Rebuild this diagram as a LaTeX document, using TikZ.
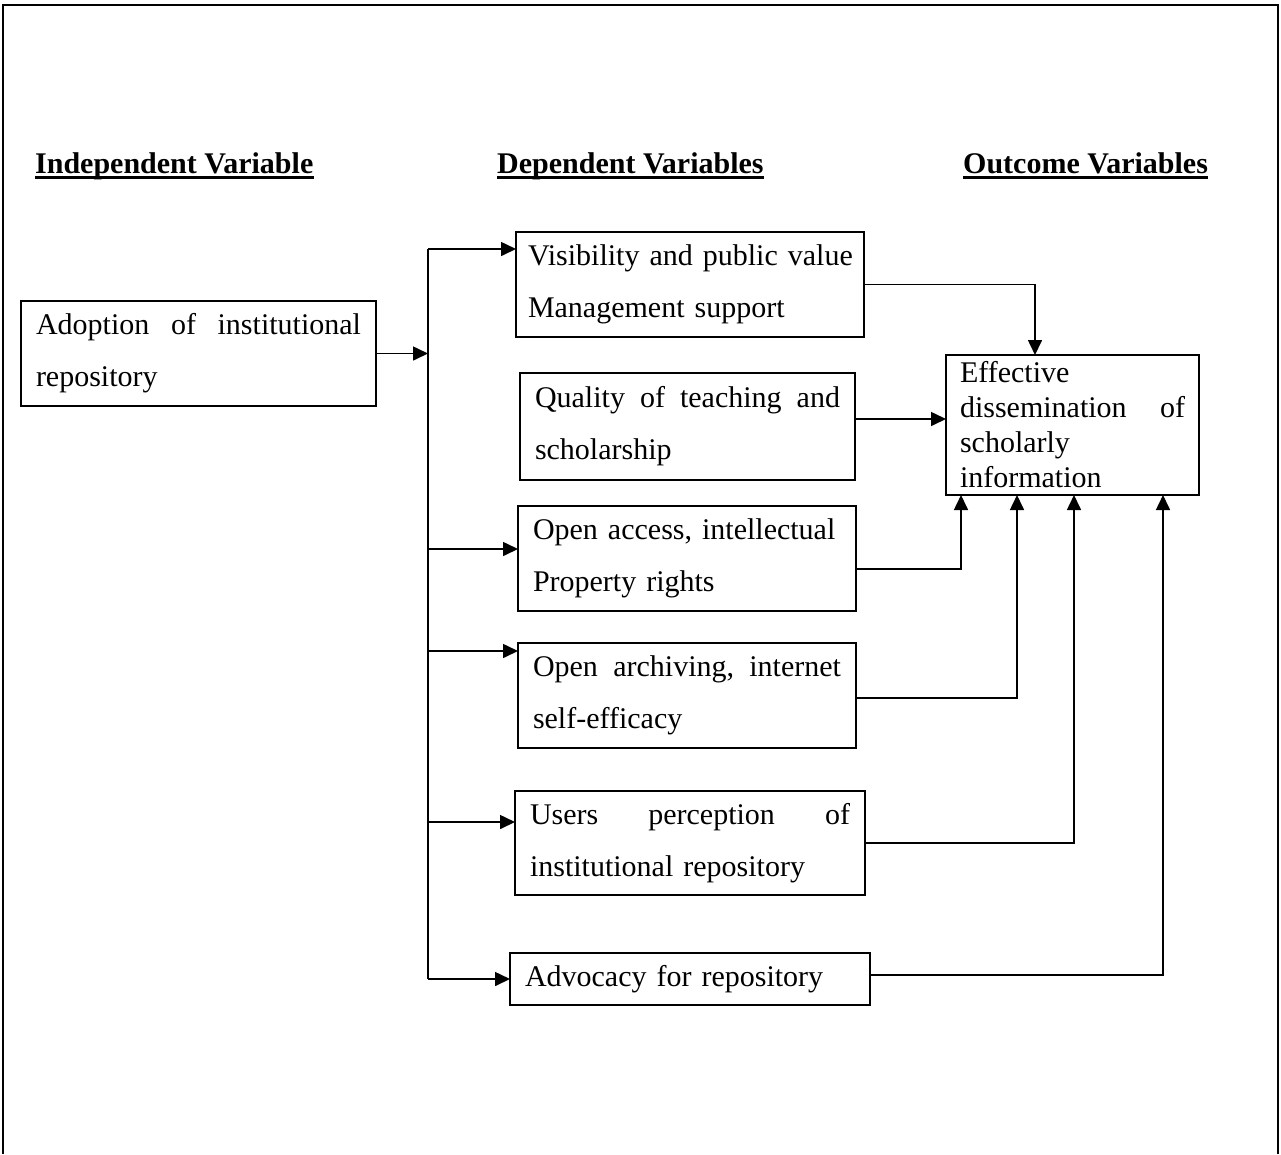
\documentclass[tikz,border=0pt]{standalone}
\usepackage{fontspec}
\setmainfont{Liberation Serif}
\usetikzlibrary{arrows.meta, positioning}
\newcommand{\boxfont}{\fontsize{30}{52}\selectfont}
\newcommand{\efffont}{\fontsize{30}{35}\selectfont}

\begin{document}
\begin{tikzpicture}[x=1pt, y=1pt,
      box/.style={draw, line width=2pt, outer sep=0pt, inner xsep=15pt, inner ysep=4pt, align=left, font=\boxfont},
      hdr/.style={inner sep=0pt, anchor=base west, font=\boxfont\bfseries},
      conn/.style={line width=1.6pt},
      arr/.style={-{Triangle[length=15pt, width=14pt]}, line width=1.6pt},
    ]
    \useasboundingbox (0,0) rectangle (1281,-1154);
    \draw[line width=2.5pt] (3,-1154) -- (3,-5) -- (1278,-5) -- (1278,-1154);

    % column headings
    \node[hdr] (hind) at (35,-173) {Independent Variable};
    \node[hdr] (hdep) at (497,-173) {Dependent Variables};
    \node[hdr] (hout) at (963,-173) {Outcome Variables};
    \foreach \h in {hind, hdep, hout}
      \draw[line width=2.5pt] ([yshift=-4.5pt]\h.base west) -- ([yshift=-4.5pt]\h.base east);

    % boxes
    \node[box, text width=325pt, minimum height=105pt] (adopt) at (198.5,-353.5)
      {Adoption\hfill of\hfill institutional\\repository};
    \node[box, text width=324pt, inner xsep=12pt, minimum height=105pt, right=140pt of adopt, yshift=69pt] (vis)
      {\mbox{Visibility and public value}\\Management support};
    \node[box, text width=305pt, minimum height=107pt, below=36pt of vis, xshift=-2.5pt] (qual)
      {Quality\hfill of\hfill teaching\hfill and\\scholarship};
    \node[box, text width=308pt, minimum height=105pt, below=26pt of qual, xshift=-0.5pt] (oa)
      {Open access, intellectual\\Property rights};
    \node[box, text width=308pt, minimum height=105pt, below=32pt of oa] (arch)
      {Open\hfill archiving,\hfill internet\\self-efficacy};
    \node[box, text width=320pt, minimum height=104pt, below=43pt of arch, xshift=3pt] (users)
      {Users\hfill perception\hfill of\\institutional repository};
    \node[box, text width=330pt, minimum height=52pt, below=58pt of users] (advo)
      {Advocacy for repository};
    \node[box, text width=225pt, inner xsep=14pt, minimum height=140pt, font=\efffont, right=91pt of qual, yshift=1.5pt] (eff)
      {Effective\\dissemination\hfill of\\scholarly\\information};

    % left side: trunk and branches
    \coordinate (trunk) at ([xshift=52pt]adopt.east);
    \coordinate (visin) at ([yshift=-17pt]vis.north west);
    \coordinate (oain) at ([yshift=9.5pt]oa.west);
    \coordinate (arin) at ([yshift=-8pt]arch.north west);
    \coordinate (usin) at ([yshift=21pt]users.west);
    \draw[conn] (visin -| trunk) -- (advo.west -| trunk);
    \draw[arr] (adopt.east) -- (trunk);
    \foreach \tgt in {visin, oain, arin, usin, advo.west}
      \draw[arr] (\tgt -| trunk) -- (\tgt);

    % right side: into the outcome box
    \coordinate (qout) at ([yshift=7.5pt]qual.east);
    \draw[arr] (vis.east) -| ([xshift=89pt]eff.north west);
    \draw[arr] (qout) -- (qout -| eff.west);
    \draw[arr] ([yshift=-10.5pt]oa.east) -| ([xshift=15pt]eff.south west);
    \draw[arr] ([yshift=-2.5pt]arch.east) -| ([xshift=71pt]eff.south west);
    \draw[arr] (users.east) -| ([xshift=128pt]eff.south west);
    \draw[arr] ([yshift=4pt]advo.east) -| ([xshift=217pt]eff.south west);
  \end{tikzpicture}
\end{document}
